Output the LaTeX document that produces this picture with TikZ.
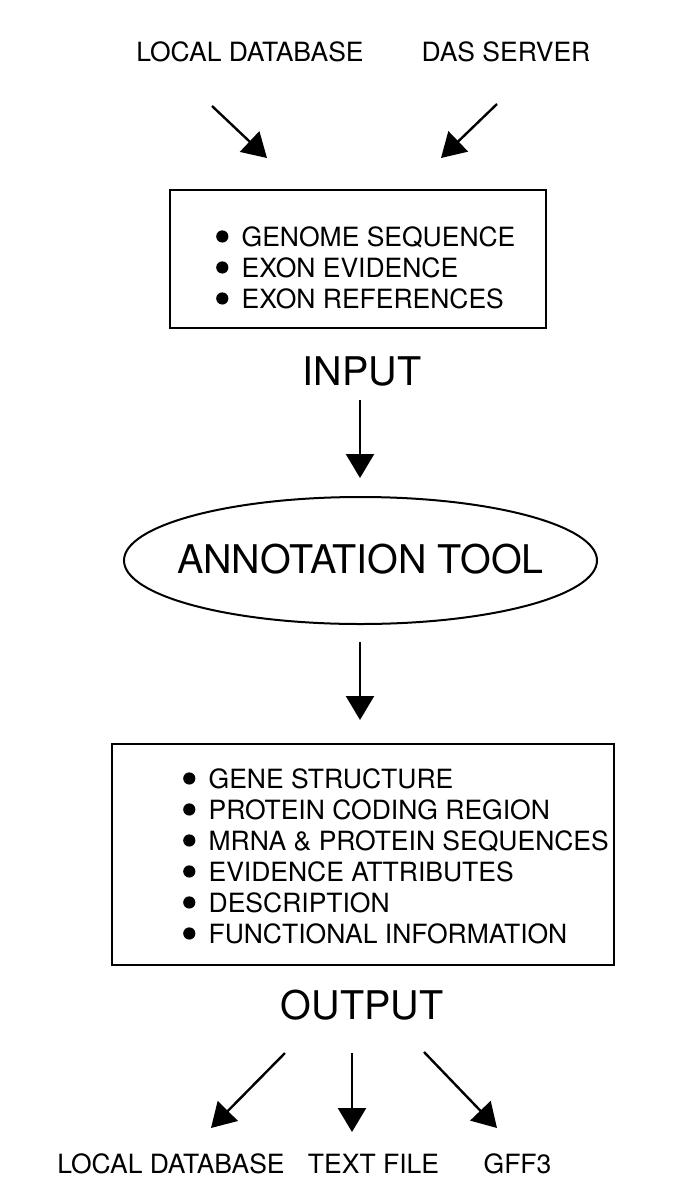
\documentclass[tikz,border=0pt]{standalone}
\usepackage{fontspec}
\setmainfont{TeX Gyre Heros}
\usetikzlibrary{arrows.meta,shapes.geometric}
\newcommand{\blt}{\tikz[baseline=0pt]\fill (0,0.36em) circle (0.23em);\hspace{0.5em}}
\begin{document}
\begin{tikzpicture}[x=1pt,y=-1pt,
 lbl/.style={font=\fontsize{26.5}{31}\selectfont, inner sep=0pt, anchor=base},
 big/.style={font=\fontsize{39.5}{46}\selectfont, inner sep=0pt, anchor=base},
 box/.style={draw, line width=2pt, rectangle, inner sep=0pt},
 lst/.style={font=\fontsize{26.5}{31}\selectfont, align=left, inner sep=0pt, anchor=north west},
 arr/.style={line width=2.4pt, -{Triangle[length=24pt,width=28pt]}}
]
\useasboundingbox (0,0) rectangle (685,1200);
% top sources
\node[lbl] (srcdb) at (250,61) {LOCAL DATABASE};
\node[lbl] (srcdas) at (506,61) {DAS SERVER};
% input box
\node[box, minimum width=376, minimum height=138] (inbox) at (358,259) {};
\node[lst] (inlist) at (216,226) {\blt GENOME SEQUENCE\\ \blt EXON EVIDENCE\\ \blt EXON REFERENCES};
\node[big] (input) at (362,385) {INPUT};
% tool
\node[inner sep=0pt, font=\fontsize{39.5}{46}\selectfont] (tool) at (360.5,559) {ANNOTATION TOOL};
\draw[line width=2pt] (360.5,560.5) ellipse [x radius=236.5, y radius=63.5];
% output box
\node[box, minimum width=502, minimum height=221] (outbox) at (363,854.5) {};
\node[lst] (outlist) at (183,768) {\blt GENE STRUCTURE\\ \blt PROTEIN CODING REGION\\ \blt MRNA \& PROTEIN SEQUENCES\\ \blt EVIDENCE ATTRIBUTES\\ \blt DESCRIPTION\\ \blt FUNCTIONAL INFORMATION};
\node[big] (output) at (362,1019) {OUTPUT};
% targets
\node[lbl] (dstdb) at (171,1173) {LOCAL DATABASE};
\node[lbl] (dsttxt) at (373.5,1173) {TEXT FILE};
\node[lbl] (dstgff) at (517.5,1173) {GFF3};
% connector ends
\coordinate (a1s) at (212,106); \coordinate (a1e) at (267,158);
\coordinate (a2s) at (497,104); \coordinate (a2e) at (441,158);
\coordinate (a3s) at (360,400); \coordinate (a3e) at (360,478);
\coordinate (a4s) at (360,642); \coordinate (a4e) at (360,720);
\coordinate (a5s) at (285,1053); \coordinate (a5e) at (211,1128);
\coordinate (a6s) at (352,1053); \coordinate (a6e) at (352,1132);
\coordinate (a7s) at (424,1052); \coordinate (a7e) at (497,1128);
\draw[arr] (a1s) -- (a1e);
\draw[arr] (a2s) -- (a2e);
\draw[arr] (a3s) -- (a3e);
\draw[arr] (a4s) -- (a4e);
\draw[arr] (a5s) -- (a5e);
\draw[arr] (a6s) -- (a6e);
\draw[arr] (a7s) -- (a7e);
\end{tikzpicture}
\end{document}
